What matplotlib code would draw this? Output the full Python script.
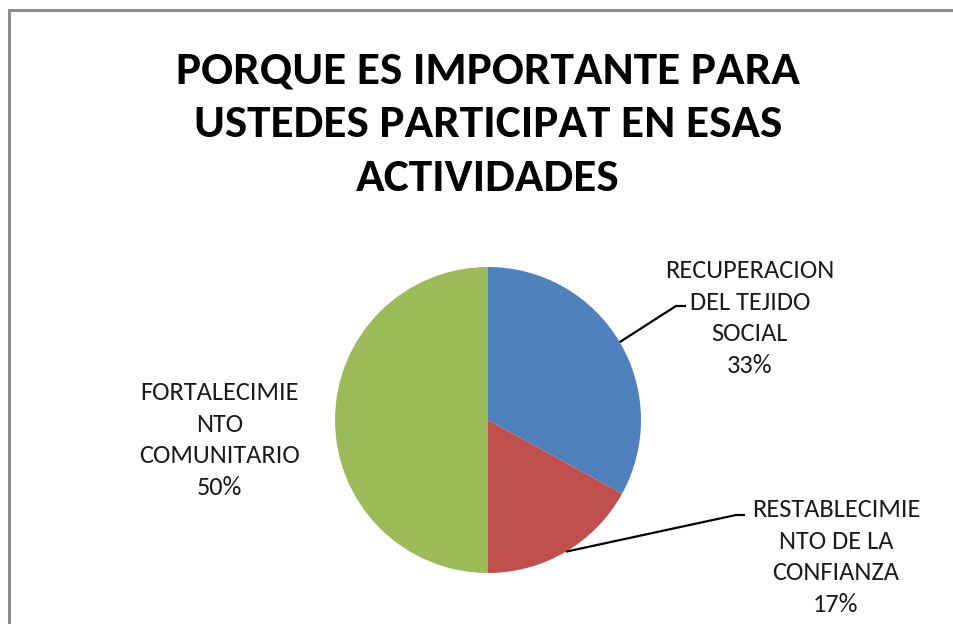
import numpy as np
import matplotlib
matplotlib.use("Agg")
import matplotlib.pyplot as plt

plt.rcParams['font.family'] = ['Carlito', 'Lato', 'DejaVu Sans']

# --- data ---
labels = ["RECUPERACION\nDEL TEJIDO\nSOCIAL", "RESTABLECIMIE\nNTO DE LA\nCONFIANZA", "FORTALECIMIE\nNTO\nCOMUNITARIO"]
values = [33, 17, 50]
colors = ["#4F81BD", "#C0504D", "#9BBB59"]
title = "PORQUE ES IMPORTANTE PARA\nUSTEDES PARTICIPAT EN ESAS\nACTIVIDADES"

W, H = 954, 624
fig = plt.figure(figsize=(W / 100, H / 100), dpi=100)
ax = fig.add_axes([0, 0, 1, 1])

cx, cy, r = 488, H - 420, 153
wedges, _ = ax.pie(values, colors=colors, startangle=90, counterclock=False,
                   center=(cx, cy), radius=r, frame=True)
ax.set_xlim(0, W)
ax.set_ylim(0, H)
ax.set_aspect("equal")
ax.axis("off")

# chart frame, only top and left edges visible (cropped screenshot)
ax.plot([9, 9, W + 5], [-5, H - 10, H - 10], color="#8c8c8c", lw=2.2,
        solid_joinstyle="miter")

txt = dict(ha="center", va="center", fontsize=19, color="#1a1a1a", linespacing=1.44)

# (text centre x, text centre y from top, elbow x, elbow y, line end x)
place = [
    (750, 318, 676, 306, 686),
    (836, 557, 736, 515, 745),
    (220, 440, None, None, None),
]
total = sum(values)
for w, lab, v, p in zip(wedges, labels, values, place):
    tx, ty, ex, ey, lx = p
    ax.text(tx, H - ty, f"{lab}\n{round(100 * v / total)}%", **txt)
    if ex is not None:
        ang = np.deg2rad((w.theta1 + w.theta2) / 2)
        sx, sy = cx + r * np.cos(ang), cy + r * np.sin(ang)
        ax.plot([sx, ex, lx], [sy, H - ey, H - ey], color="black", lw=1.6,
                solid_capstyle="butt")

ax.text(488, H - 124, title, ha="center", va="center", fontsize=34,
        fontweight="bold", color="black", linespacing=1.41)

fig.savefig("out.png", dpi=100)
